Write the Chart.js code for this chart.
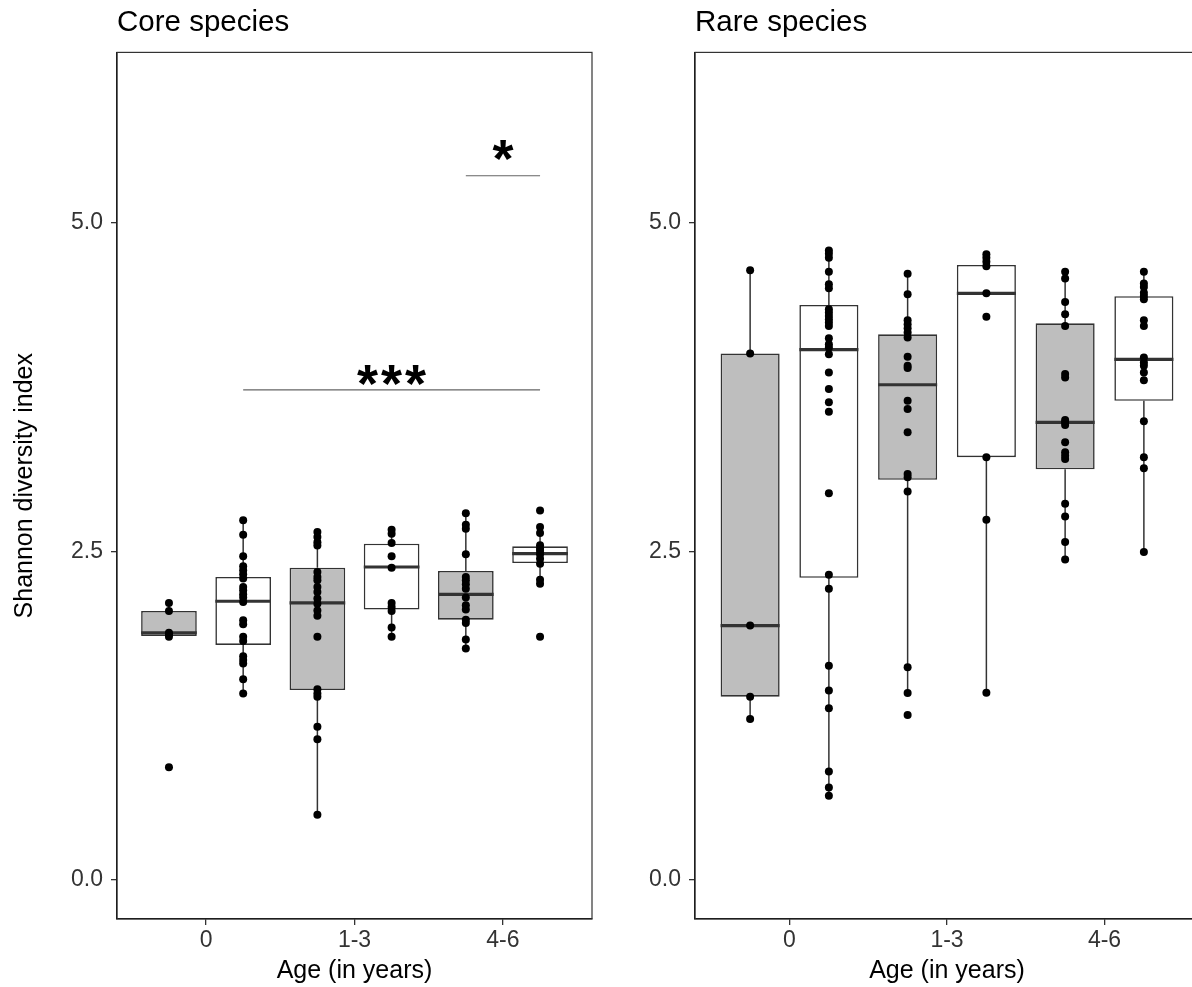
<!DOCTYPE html>
<html>
<head>
<meta charset="utf-8">
<title>Shannon diversity by age</title>
<script src="https://cdn.jsdelivr.net/npm/chart.js@4.4.0/dist/chart.umd.min.js"></script>
<style>
  html, body { margin: 0; padding: 0; background: #fff; overflow: hidden; }
  canvas { position: absolute; top: 0; }
  #core { left: 0; }
  #rare { left: 596px; }
</style>
</head>
<body>
<canvas id="core" width="596" height="987"></canvas>
<canvas id="rare" width="640" height="987"></canvas>
<script>
// Age classes on the x axis; each class has a grey box then a white box
const ageGroups = ['0', '1-3', '4-6'];
const yTicks = [0, 2.5, 5];

// Core species: box statistics, one value per box
const coreLow    = [1.850, 1.418, 0.494, 1.849, 1.753, 2.254];
const coreQ1     = [1.856, 1.787, 1.444, 2.057, 1.980, 2.411];
const coreMedian = [1.880, 2.120, 2.107, 2.381, 2.173, 2.482];
const coreQ3     = [2.046, 2.305, 2.375, 2.558, 2.351, 2.538];
const coreHigh   = [2.107, 2.736, 2.647, 2.665, 2.791, 2.685];

// Core species: individual samples
const corePoints = [
  [2.107, 2.046, 1.880, 1.870, 1.850, 0.856],
  [2.736, 2.627, 2.462, 2.386, 2.356, 2.325, 2.293, 2.229, 2.204, 2.173, 2.148, 2.115,
   1.976, 1.945, 1.849, 1.818, 1.702, 1.672, 1.646, 1.525, 1.418],
  [2.647, 2.609, 2.570, 2.545, 2.343, 2.305, 2.280, 2.229, 2.191, 2.140, 2.100, 2.050,
   2.010, 1.849, 1.449, 1.418, 1.393, 1.165, 1.069, 0.494],
  [2.665, 2.634, 2.563, 2.462, 2.376, 2.107, 2.077, 2.046, 1.920, 1.849],
  [2.791, 2.703, 2.672, 2.477, 2.305, 2.280, 2.249, 2.216, 2.148, 2.090, 2.057, 1.980,
   1.955, 1.828, 1.760],
  [2.811, 2.685, 2.640, 2.546, 2.520, 2.502, 2.477, 2.444, 2.406, 2.284, 2.254, 1.849]
];

// Rare species: box statistics
const rareLow    = [1.223, 0.638, 1.421, 1.423, 2.437, 2.495];
const rareQ1     = [1.393, 2.299, 3.045, 3.217, 3.125, 3.647];
const rareMedian = [1.935, 4.037, 3.769, 4.465, 3.483, 3.962];
const rareQ3     = [4.007, 4.377, 4.153, 4.681, 4.237, 4.443];
const rareHigh   = [4.640, 4.792, 4.614, 4.762, 4.630, 4.630];

// Rare species: individual samples
const rarePoints = [
  [4.640, 4.007, 1.935, 1.393, 1.223],
  [4.792, 4.767, 4.737, 4.630, 4.534, 4.503, 4.344, 4.319, 4.293, 4.268, 4.243, 4.217,
   4.123, 4.077, 4.052, 4.002, 3.863, 3.736, 3.635, 3.564, 2.943, 2.322, 2.216, 1.628,
   1.441, 1.305, 0.823, 0.701, 0.638],
  [4.614, 4.458, 4.260, 4.230, 4.200, 4.166, 4.128, 3.982, 3.913, 3.896, 3.647, 3.584,
   3.407, 3.090, 3.065, 2.956, 1.618, 1.421, 1.254],
  [4.762, 4.737, 4.705, 4.672, 4.465, 4.286, 3.217, 2.741, 1.423],
  [4.630, 4.578, 4.400, 4.306, 4.217, 3.850, 3.825, 3.500, 3.483, 3.463, 3.330, 3.254,
   3.229, 3.204, 2.862, 2.766, 2.571, 2.437],
  [4.630, 4.539, 4.514, 4.470, 4.445, 4.420, 4.260, 4.217, 3.976, 3.938, 3.913, 3.863,
   3.804, 3.490, 3.217, 3.133, 2.495]
];

// Significance brackets on the core panel (box indices, bar height, star height)
const coreSigLabels = ['***', '*'];
const coreSigFrom   = [1, 4];
const coreSigTo     = [5, 5];
const coreSigY      = [3.73, 5.36];
const coreSigTextY  = [3.84, 5.55];

const boxFills = ['#bebebe', '#ffffff'];
const ink = '#333333';
const font = 'Liberation Sans, Arial, sans-serif';
const halfBox = 0.1875;

// grey box sits left of the age tick, white box right of it
function slotX(i) {
  return Math.floor(i / 2) + 1 + (i % 2 ? 0.25 : -0.25);
}

// outline around the whole panel
const panelBorder = {
  id: 'panelBorder',
  afterDraw(chart) {
    const a = chart.chartArea, ctx = chart.ctx;
    ctx.save();
    ctx.strokeStyle = ink;
    ctx.lineWidth = 1.2;
    ctx.strokeRect(a.left, a.top, a.right - a.left, a.bottom - a.top);
    ctx.restore();
  }
};

// significance stars, centred over their bracket
const sigStars = {
  id: 'sigStars',
  afterDatasetsDraw(chart, args, opts) {
    if (!opts.labels) return;
    const ctx = chart.ctx, xs = chart.scales.x, ys = chart.scales.y;
    ctx.save();
    ctx.fillStyle = '#000';
    ctx.font = 'bold 54px ' + font;
    ctx.letterSpacing = '3px';
    ctx.textAlign = 'center';
    ctx.textBaseline = 'alphabetic';
    opts.labels.forEach((lab, k) => {
      const x = xs.getPixelForValue((slotX(opts.from[k]) + slotX(opts.to[k])) / 2);
      const y = ys.getPixelForValue(opts.textY[k]);
      const m = ctx.measureText(lab);
      ctx.fillText(lab, x + 1.5, y + (m.actualBoundingBoxAscent - m.actualBoundingBoxDescent) / 2);
    });
    ctx.restore();
  }
};

function makePanel(id, title, low, q1, med, q3, high, points, sig, opts) {
  const boxes = q1.map((v, i) => ({ x: slotX(i), y: [v, q3[i]] }));

  const whiskers = [];
  low.forEach((v, i) => {
    const x = slotX(i);
    whiskers.push({ x, y: q3[i] }, { x, y: high[i] }, { x, y: null });
    whiskers.push({ x, y: q1[i] }, { x, y: v }, { x, y: null });
  });

  const medians = [];
  med.forEach((v, i) => {
    const x = slotX(i);
    medians.push({ x: x - halfBox, y: v }, { x: x + halfBox, y: v }, { x, y: null });
  });

  const dots = [];
  points.forEach((arr, i) => arr.forEach(v => dots.push({ x: slotX(i), y: v })));

  const brackets = [];
  if (sig) {
    sig.labels.forEach((lab, k) => {
      brackets.push({ x: slotX(sig.from[k]), y: sig.y[k] },
                    { x: slotX(sig.to[k]), y: sig.y[k] },
                    { x: slotX(sig.to[k]), y: null });
    });
  }

  const tickFont = { family: font, size: 23 };
  const titleFont = { family: font, size: 25 };

  return new Chart(document.getElementById(id), {
    type: 'bar',
    data: {
      datasets: [
        {
          type: 'scatter', data: dots, order: 1,
          pointRadius: 4, pointHoverRadius: 4,
          pointBackgroundColor: '#000', pointBorderWidth: 0
        },
        {
          type: 'line', data: medians, order: 2,
          borderColor: ink, borderWidth: 3.2, pointRadius: 0, fill: false, spanGaps: false
        },
        {
          type: 'bar', data: boxes, order: 3,
          backgroundColor: q1.map((v, i) => boxFills[i % 2]),
          borderColor: ink, borderWidth: 1.6, borderSkipped: false,
          barPercentage: 0.75, categoryPercentage: 1
        },
        {
          type: 'line', data: whiskers, order: 4,
          borderColor: ink, borderWidth: 1.5, pointRadius: 0, fill: false, spanGaps: false
        },
        {
          type: 'line', data: brackets, order: 5,
          borderColor: '#666', borderWidth: 1.1, pointRadius: 0, fill: false, spanGaps: false
        }
      ]
    },
    options: {
      responsive: false,
      animation: false,
      events: [],
      layout: { padding: { right: opts.rightPad } },
      plugins: {
        legend: { display: false },
        tooltip: { enabled: false },
        title: {
          display: true, text: title, align: 'start', fullSize: false,
          color: '#000', font: { family: font, size: 29.5, weight: 'normal' },
          padding: { top: 5, bottom: 12 }
        },
        sigStars: sig || {}
      },
      scales: {
        x: {
          type: 'linear', min: 0.4, max: 3.6, offset: false,
          afterBuildTicks: s => { s.ticks = ageGroups.map((g, i) => ({ value: i + 1 })); },
          afterFit: s => { s.height = 68; },
          ticks: {
            callback: v => ageGroups[Math.round(v) - 1],
            font: tickFont, color: ink, padding: 2, autoSkip: false, maxRotation: 0
          },
          grid: { drawOnChartArea: false, offset: false, tickLength: 6, color: ink, lineWidth: 1.3 },
          border: { color: '#000', width: 1.3 },
          title: {
            display: true, text: 'Age (in years)', color: '#000', font: titleFont,
            padding: { top: 0, bottom: 1 }
          }
        },
        y: {
          min: -0.3, max: 6.3,
          afterBuildTicks: s => { s.ticks = yTicks.map(v => ({ value: v })); },
          afterFit: s => { s.width = opts.axisWidth; },
          ticks: { callback: v => v.toFixed(1), font: tickFont, color: ink, padding: 8 },
          grid: { drawOnChartArea: false, tickLength: 6, color: ink, lineWidth: 1.3 },
          border: { color: '#000', width: 1.3 },
          title: {
            display: opts.yTitle, text: 'Shannon diversity index', color: '#000', font: titleFont,
            padding: { top: 10, bottom: 0 }
          }
        }
      }
    },
    plugins: [panelBorder, sigStars]
  });
}

makePanel('core', 'Core species', coreLow, coreQ1, coreMedian, coreQ3, coreHigh, corePoints,
  { labels: coreSigLabels, from: coreSigFrom, to: coreSigTo, y: coreSigY, textY: coreSigTextY },
  { rightPad: 3, axisWidth: 117, yTitle: true });

makePanel('rare', 'Rare species', rareLow, rareQ1, rareMedian, rareQ3, rareHigh, rarePoints,
  null, { rightPad: 37, axisWidth: 99, yTitle: false });
</script>
</body>
</html>
